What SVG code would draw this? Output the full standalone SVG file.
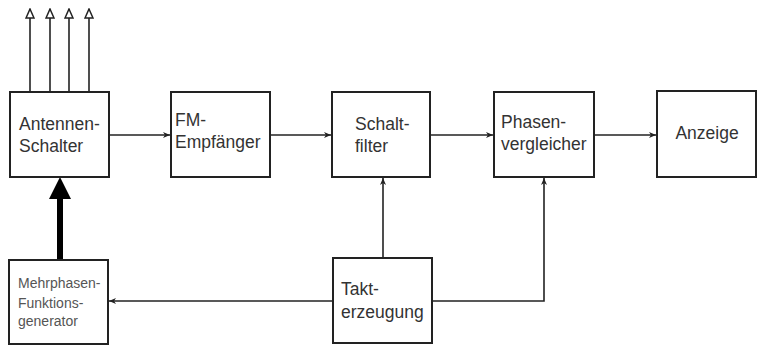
<svg xmlns="http://www.w3.org/2000/svg" width="759" height="345" viewBox="0 0 759 345">
<style>
.box{fill:#fff;stroke:#222;stroke-width:2}
.t{font-family:"Liberation Sans",Arial,sans-serif;font-size:17.5px;fill:#333}
.s{font-family:"Liberation Sans",Arial,sans-serif;font-size:14px;fill:#555}
.ln{fill:none;stroke:#222;stroke-width:1.6}
</style>
<defs>
<marker id="a" markerWidth="8" markerHeight="8" refX="7" refY="4" orient="auto" markerUnits="userSpaceOnUse">
<path d="M0,1 L7,4 L0,7 L2,4 Z" fill="#222"/>
</marker>
<marker id="h" markerWidth="10" markerHeight="12" refX="5" refY="1" orient="0" markerUnits="userSpaceOnUse">
<path d="M5,1 L9,10 L1,10 Z" fill="#fff" stroke="#222" stroke-width="1.5"/>
</marker>
</defs>
<rect width="759" height="345" fill="#fff"/>
<g id="connectors">
<line class="ln" x1="30" y1="92" x2="30" y2="9" marker-end="url(#h)"/>
<line class="ln" x1="50" y1="92" x2="50" y2="9" marker-end="url(#h)"/>
<line class="ln" x1="69" y1="92" x2="69" y2="9" marker-end="url(#h)"/>
<line class="ln" x1="89" y1="92" x2="89" y2="9" marker-end="url(#h)"/>
<line class="ln" x1="109" y1="135" x2="170" y2="135" marker-end="url(#a)"/>
<line class="ln" x1="270" y1="135" x2="331" y2="135" marker-end="url(#a)"/>
<line class="ln" x1="430" y1="135" x2="493" y2="135" marker-end="url(#a)"/>
<line class="ln" x1="594" y1="135" x2="656" y2="135" marker-end="url(#a)"/>
<line x1="60" y1="260" x2="60" y2="195" stroke="#000" stroke-width="6"/>
<path d="M60,177 L71,199 L49,199 Z" fill="#000"/>
<line class="ln" x1="383" y1="258" x2="383" y2="178" marker-end="url(#a)"/>
<polyline class="ln" points="432,301 544,301 544,178" marker-end="url(#a)"/>
<line class="ln" x1="333" y1="301" x2="109" y2="301" marker-end="url(#a)"/>
</g>
<g id="antennen-schalter">
<rect class="box" x="10" y="92" width="99" height="85"/>
<text class="t" x="19" y="130">Antennen-</text>
<text class="t" x="19" y="152">Schalter</text>
</g>
<g id="fm-empfaenger">
<rect class="box" x="171" y="92" width="99" height="85"/>
<text class="t" x="175" y="126">FM-</text>
<text class="t" x="175" y="148">Empfänger</text>
</g>
<g id="schaltfilter">
<rect class="box" x="332" y="92" width="98" height="85"/>
<text class="t" x="355" y="130">Schalt-</text>
<text class="t" x="355" y="152">filter</text>
</g>
<g id="phasenvergleicher">
<rect class="box" x="494" y="92" width="100" height="85"/>
<text class="t" x="501" y="128">Phasen-</text>
<text class="t" x="501" y="150">vergleicher</text>
</g>
<g id="anzeige">
<rect class="box" x="657" y="91" width="99" height="86"/>
<text class="t" x="707" y="139" text-anchor="middle">Anzeige</text>
</g>
<g id="mehrphasen">
<rect class="box" x="9" y="260" width="99" height="84"/>
<text class="s" x="18" y="288">Mehrphasen-</text>
<text class="s" x="18" y="308">Funktions-</text>
<text class="s" x="18" y="326">generator</text>
</g>
<g id="takterzeugung">
<rect class="box" x="333" y="258" width="99" height="85"/>
<text class="t" x="341" y="295">Takt-</text>
<text class="t" x="341" y="318">erzeugung</text>
</g>
</svg>
